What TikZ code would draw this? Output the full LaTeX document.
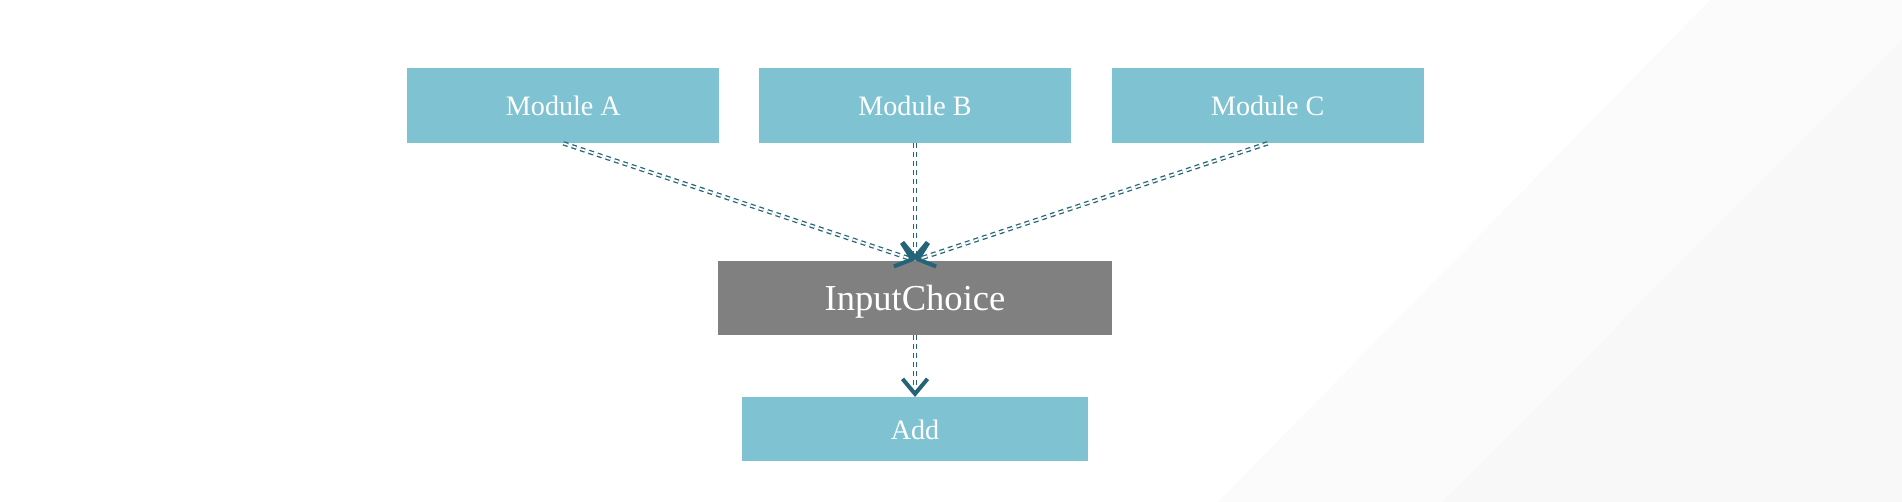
\documentclass[tikz,border=0pt]{standalone}
\usepackage{fontspec}
\setmainfont{Liberation Serif}
\usetikzlibrary{arrows.meta,positioning}

\definecolor{modfill}{RGB}{127,195,211}
\definecolor{choicefill}{RGB}{128,128,128}
\definecolor{linkcol}{RGB}{36,100,118}
\definecolor{bandone}{RGB}{251,251,251}
\definecolor{bandtwo}{RGB}{248,248,248}

\begin{document}
\begin{tikzpicture}[x=0.02cm,y=-0.02cm,
module/.style={
fill=modfill, text=white, minimum width=6.24cm, minimum height=1.5cm, inner sep=0pt, text depth=0pt, font=\fontsize{16}{19}\selectfont
},
choice/.style={
fill=choicefill, text=white, minimum width=7.9cm, minimum height=1.48cm, inner sep=0pt, text depth=0pt, font=\fontsize{20.8}{25}\selectfont
},
link/.style={
draw=linkcol, line width=0.026cm, double=white, double distance=0.036cm, dash pattern=on 2.8pt off 2.3pt,
-{Straight Barb[length=0.3cm,width=0.5cm,line width=0.08cm]}
}]
    % background
    \useasboundingbox (0,0) rectangle (1902,502);
    \fill[bandone] (1710,0) -- (1902,0) -- (1902,502) -- (1218,502) -- cycle;
    \fill[bandtwo] (1902,40) -- (1902,502) -- (1442,502) -- cycle;

    \node [module] (modB) at (915,105.5) {Module B};
    \node [module, left=0.78cm of modB] (modA) {Module A};
    \node [module, right=0.8cm of modB] (modC) {Module C};

    \node [choice, below=2.34cm of modB] (choice) {InputChoice};

    \node [module, minimum width=6.92cm, minimum height=1.28cm, below=1.24cm of choice] (add) {Add};

  \draw[link] (modA.south) -- (choice.north);
  \draw[link] (modB.south) -- (choice.north);
  \draw[link] (modC.south) -- (choice.north);
  \draw[link] (choice.south) -- (add.north);
\end{tikzpicture}
\end{document}
